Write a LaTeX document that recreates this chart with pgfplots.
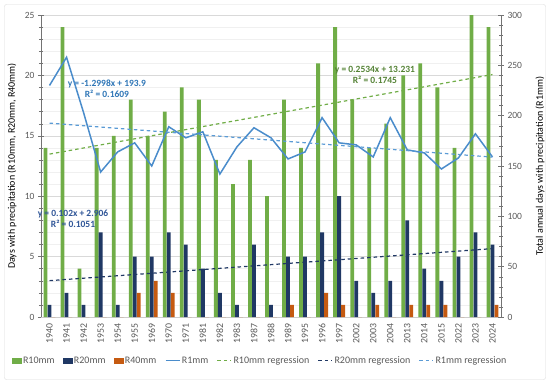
\documentclass[border=0pt]{standalone}
\usepackage{pgfplots}
\usepackage{pgfplotstable}
\pgfplotsset{compat=1.18}
\usepackage{fontspec}
\setmainfont{Carlito}
\definecolor{cgreen}{HTML}{70AD47}
\definecolor{cnavy}{HTML}{203864}
\definecolor{corange}{HTML}{C55A11}
\definecolor{cline}{HTML}{5B9BD5}
\definecolor{cline2}{HTML}{4A8CCB}
\definecolor{tickgray}{HTML}{595959}
\definecolor{eqblue}{HTML}{2E75B6}
\definecolor{eqgreen}{HTML}{548235}
\definecolor{eqnavy}{HTML}{2F5597}

\pgfplotstableread{
idx R10 R20 R40 R1
0 14 1 0 230
1 24 2 0 258
2 4 1 0 203
3 14 7 0 144
4 15 1 0 164
5 18 5 2 173
6 15 5 3 150
7 17 7 2 189
8 19 6 0 178
9 18 4 0 184
10 13 2 0 142
11 11 1 0 169
12 13 6 0 188
13 10 1 0 178
14 18 5 1 157
15 14 5 0 164
16 21 7 2 198
17 24 10 1 173
18 18 3 0 171
19 14 2 1 159
20 16 3 0 198
21 20 8 1 166
22 21 4 1 163
23 19 3 1 147
24 14 5 0 158
25 25 7 0 182
26 24 6 1 159
}\datatable

\pgfplotsset{
  common/.style={
    at={(41pt,67pt)}, anchor=south west,
    scale only axis, width=460pt, height=302pt,
    xmin=-0.5, xmax=26.5,
    tick align=center,
    major tick length=6pt, minor tick length=4pt,
    every tick/.style={black!55},
    y tick label style={font=\fontsize{9.5}{10}\selectfont, text=tickgray},
    /pgf/number format/assume math mode=true,
    label style={font=\fontsize{10}{11}\selectfont, text=tickgray},
  }
}

\begin{document}
\begin{tikzpicture}
\path[use as bounding box] (0pt,0pt) rectangle (550pt,384pt);
\draw[black!15, rounded corners=2pt] (4.5pt,4.5pt) rectangle (545.5pt,379.5pt);
\begin{axis}[common,
  ymin=0, ymax=25,
  ytick={0,5,...,25},
  minor y tick num=4,
  ymajorgrids, yminorgrids,
  major grid style={black!15, line width=0.5pt},
  minor grid style={black!6, line width=0.4pt},
  axis x line*=bottom, axis y line*=left,
  x axis line style={black!20, -},
  y axis line style={black!55, -},
  xtick={0,...,26},
  xticklabels={1940,1941,1942,1953,1954,1955,1969,1970,1971,1981,1982,1983,1987,1988,1989,1995,1996,1997,2002,2003,2004,2013,2014,2015,2022,2023,2024},
  x tick label style={rotate=90, anchor=east, font=\fontsize{9.8}{10}\selectfont, text=tickgray},
  xtick style={draw=none},
  ylabel={Days with precipitation (R10mm, R20mm, R40mm)},
  every axis y label/.style={at={(axis description cs:-0.063,0.5)}, rotate=90, anchor=center},
  clip=false,
]
\addplot[ybar, bar width=3.8pt, bar shift=-4pt, fill=cgreen, draw=none] table[x=idx,y=R10] {\datatable};
\addplot[ybar, bar width=3.8pt, bar shift=0pt, fill=cnavy, draw=none] table[x=idx,y=R20] {\datatable};
\addplot[ybar, bar width=3.8pt, bar shift=4pt, fill=corange, draw=none] table[x=idx,y=R40] {\datatable};
\addplot[cgreen, line width=1.2pt, dash pattern=on 3.5pt off 3pt] coordinates {(0,13.4844) (26,20.0728)};
\addplot[cnavy, line width=1.2pt, dash pattern=on 3.5pt off 3pt] coordinates {(0,3.008) (26,5.66)};
\node[align=center, font=\bfseries\fontsize{9.5}{11}\selectfont, text=eqblue] at (axis cs:3.37,18.87) {y = -1.2998x + 193.9\\R² = 0.1609};
\node[align=center, font=\bfseries\fontsize{9.5}{11}\selectfont, text=eqgreen] at (axis cs:19.1,20.03) {y = 0.2534x + 13.231\\R² = 0.1745};
\node[align=center, font=\bfseries\fontsize{9.5}{11}\selectfont, text=eqnavy] at (axis cs:1.38,8.11) {y = 0.102x + 2.906\\R² = 0.1051};
\end{axis}
\begin{axis}[common,
  ymin=0, ymax=300,
  ytick={0,50,...,300},
  minor y tick num=4,
  axis x line=none, axis y line*=right,
  y axis line style={black!55, -},
  ylabel={Total annual days with precipitation (R1mm)},
  every axis y label/.style={at={(axis description cs:1.085,0.5)}, rotate=90, anchor=center},
  legend columns=7,
  legend style={at={(axis description cs:0.476,-0.145)}, anchor=center, draw=none, fill=none,
    font=\fontsize{10}{11}\selectfont, text=tickgray,
    /tikz/every even column/.append style={column sep=7pt},
    nodes={inner xsep=1.5pt, inner ysep=1pt}},
  clip=false,
]
\addlegendimage{legend image code/.code={\fill[cgreen] (0pt,-2.8pt) rectangle (9pt,2.8pt);}}
\addlegendentry{R10mm}
\addlegendimage{legend image code/.code={\fill[cnavy] (0pt,-2.8pt) rectangle (9pt,2.8pt);}}
\addlegendentry{R20mm}
\addlegendimage{legend image code/.code={\fill[corange] (0pt,-2.8pt) rectangle (9pt,2.8pt);}}
\addlegendentry{R40mm}
\addlegendimage{legend image code/.code={\draw[cline2, line width=1.4pt] (0pt,0pt) -- (14pt,0pt);}}
\addlegendentry{R1mm}
\addlegendimage{legend image code/.code={\draw[cgreen, line width=1.2pt, dash pattern=on 3.5pt off 3pt] (0pt,0pt) -- (14pt,0pt);}}
\addlegendentry{R10mm regression}
\addlegendimage{legend image code/.code={\draw[cnavy, line width=1.2pt, dash pattern=on 3.5pt off 3pt] (0pt,0pt) -- (14pt,0pt);}}
\addlegendentry{R20mm regression}
\addlegendimage{legend image code/.code={\draw[cline, line width=1.2pt, dash pattern=on 3.5pt off 3pt] (0pt,0pt) -- (14pt,0pt);}}
\addlegendentry{R1mm regression}
\addplot[cline2, line width=1.5pt, forget plot] table[x=idx,y=R1] {\datatable};
\addplot[cline, line width=1.2pt, dash pattern=on 3.5pt off 3pt, forget plot] coordinates {(0,192.6) (26,158.8)};
\end{axis}
\end{tikzpicture}
\end{document}
